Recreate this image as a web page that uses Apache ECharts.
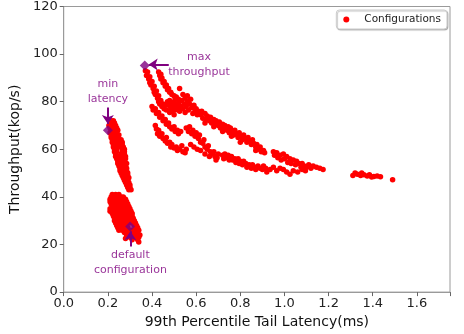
<!DOCTYPE html>
<html>
<head>
<meta charset="utf-8">
<script src="https://cdn.jsdelivr.net/npm/echarts@6/dist/echarts.min.js"></script>
<style>
html,body{margin:0;padding:0;background:#fff;}
#chart{width:464px;height:334px;}
</style>
</head>
<body>
<div id="chart"></div>
<script>
// ---- Data (latency ms, throughput kop/s) ----
var xTicks = [0.0, 0.2, 0.4, 0.6, 0.8, 1.0, 1.2, 1.4, 1.6];
var yTicks = [0, 20, 40, 60, 80, 100, 120];

var minLatencyCluster = [
[0.215,72],[0.225,72],[0.21,71],[0.23,71],[0.205,70],[0.22,70],[0.235,70],
[0.21,69],[0.225,69],[0.24,69],[0.215,68],[0.23,68],[0.245,68],
[0.21,67],[0.225,67],[0.24,67],[0.215,66],[0.23,66],[0.245,66],[0.25,66],
[0.215,65],[0.23,65],[0.245,65],[0.22,64],[0.235,64],[0.25,64],[0.26,64],
[0.22,63],[0.235,63],[0.25,63],[0.265,63],[0.225,62],[0.24,62],[0.255,62],[0.265,62],
[0.225,61],[0.24,61],[0.26,61],[0.27,61],[0.23,60],[0.24,60],[0.265,60],[0.275,60],
[0.23,59],[0.24,59],[0.265,59],[0.275,59],[0.235,58],[0.26,58],[0.275,58],
[0.235,57],[0.25,57],[0.265,57],[0.28,57],[0.24,56],[0.255,56],[0.27,56],[0.28,56],
[0.245,55],[0.26,55],[0.275,55],[0.245,54],[0.26,54],[0.275,54],[0.285,54],
[0.25,53],[0.265,53],[0.28,53],[0.255,52],[0.27,52],[0.285,52],
[0.255,51],[0.27,51],[0.285,51],[0.26,50],[0.275,50],[0.29,50],
[0.265,49],[0.28,49],[0.29,49],[0.27,48],[0.285,48],[0.295,48],
[0.275,47],[0.29,47],[0.28,46],[0.295,46],[0.285,45],[0.3,45],
[0.29,44],[0.3,44],[0.295,43],[0.305,43]
];

var defaultCluster = [
[0.22,41],[0.235,41],[0.25,41],
[0.215,40],[0.23,40],[0.245,40],[0.26,40],[0.27,40],
[0.21,39],[0.225,39],[0.24,39],[0.255,39],[0.27,39],[0.28,39],
[0.21,38],[0.225,38],[0.24,38],[0.255,38],[0.27,38],[0.285,38],
[0.215,37],[0.23,37],[0.245,37],[0.26,37],[0.275,37],[0.29,37],
[0.22,36],[0.235,36],[0.25,36],[0.265,36],[0.28,36],[0.295,36],
[0.21,35],[0.225,35],[0.24,35],[0.255,35],[0.27,35],[0.285,35],[0.3,35],
[0.21,34],[0.23,34],[0.245,34],[0.26,34],[0.275,34],[0.29,34],[0.305,34],
[0.22,33],[0.235,33],[0.25,33],[0.265,33],[0.28,33],[0.295,33],[0.31,33],
[0.225,32],[0.24,32],[0.255,32],[0.27,32],[0.285,32],[0.3,32],[0.31,32],
[0.23,31],[0.245,31],[0.26,31],[0.275,31],[0.29,31],[0.305,31],[0.315,31],
[0.23,30],[0.245,30],[0.26,30],[0.275,30],[0.29,30],[0.305,30],[0.32,30],
[0.235,29],[0.25,29],[0.265,29],[0.28,29],[0.295,29],[0.31,29],[0.325,29],
[0.24,28],[0.255,28],[0.27,28],[0.285,28],[0.32,28],[0.33,28],
[0.245,27],[0.26,27],[0.275,27],[0.29,27],[0.325,27],[0.335,27],
[0.25,26],[0.265,26],[0.28,26],[0.295,26],[0.31,26],[0.33,26],[0.34,26],
[0.275,25],[0.29,25],[0.305,25],[0.32,25],[0.335,25],
[0.285,24],[0.3,24],[0.315,24],[0.33,24],[0.345,24],
[0.28,22.5],[0.3,23],[0.32,23],[0.34,23],[0.31,22],[0.335,22],[0.34,21]
];

var upperBranches = [
[0.37,93],[0.375,91],[0.38,92.5],[0.385,89.5],[0.39,90.5],[0.39,88],[0.395,87],[0.40,88.5],
[0.405,85.5],[0.41,86.5],[0.41,84],[0.415,83],[0.42,84.5],[0.425,81.5],[0.43,82.5],[0.43,80],
[0.435,79],[0.44,80.5],[0.445,78],[0.45,79],[0.455,77],[0.46,78.5],[0.465,76.5],
[0.43,92.5],[0.435,91],[0.44,91.5],[0.44,89.5],[0.445,90],[0.45,88],[0.455,88.5],[0.46,86.5],
[0.465,87],[0.47,85],[0.475,85.5],[0.48,84],[0.485,84],[0.49,83],[0.5,82.5],[0.505,81.5],
[0.51,82],[0.52,81],[0.525,85.5]
];

var upperBlob = [
[0.47,80],[0.475,78.5],[0.48,80.5],[0.485,77],[0.49,79.5],[0.495,78],[0.50,80],[0.505,76.5],
[0.51,79],[0.515,77.5],[0.52,79.5],[0.525,76],[0.53,78],[0.535,80.5],[0.54,77],[0.545,79],
[0.55,81.5],[0.55,75.5],[0.555,78],[0.56,80],[0.565,76.5],[0.57,79],[0.575,81],[0.58,77.5],
[0.585,75],[0.59,78.5],[0.595,76],[0.60,77],[0.605,74.5],[0.61,76],[0.54,83],[0.56,82.5],
[0.5,74.5],[0.49,76],[0.48,75.5]
];

var upperMainBand = [
[0.62,74.5],[0.625,76],[0.63,73],[0.64,75],[0.645,72.5],[0.65,74],[0.66,72],[0.665,73.5],
[0.67,71],[0.68,72.5],[0.685,70.5],[0.69,72],[0.70,70],[0.705,71.5],[0.71,69],[0.72,70.5],
[0.725,68.5],[0.73,70],[0.74,68],[0.745,69.5],[0.75,67],[0.755,69],[0.76,67.5],[0.77,66],
[0.775,68],[0.78,66.5],[0.79,65],[0.795,67],[0.80,65.5],[0.81,64],[0.815,66],[0.82,64.5],
[0.83,63],[0.835,65],[0.84,63.5],[0.85,62],[0.855,64],[0.86,62.5],[0.87,61],[0.875,62],
[0.88,60],[0.89,61],[0.895,59],[0.905,59.5],[0.91,58.5],[0.87,59.5],[0.64,71],[0.68,69.5],
[0.72,67.5],[0.76,65.5],[0.8,63]
];

var middleStrands = [
[0.40,78],[0.405,76.5],[0.415,77],[0.42,75],[0.43,75.5],[0.435,73.5],[0.445,74],[0.45,72],
[0.46,72.5],[0.465,70.5],[0.475,71],[0.48,69.5],[0.49,68.5],[0.50,69.5],[0.505,67.5],[0.515,68],
[0.52,66.5],[0.53,67.5],
[0.415,70],[0.42,68.5],[0.425,66.5],[0.43,68],[0.435,65.5],[0.445,66.5],[0.45,64.5],[0.46,63.5],
[0.465,65],[0.47,62.5],[0.48,63],[0.485,61],[0.49,62],[0.50,60.5],[0.51,61],[0.515,59.5],
[0.525,60],[0.535,61.5],[0.54,59],[0.55,58.5],[0.555,60],
[0.555,69],[0.565,67.5],[0.57,69.5],[0.58,66.5],[0.585,68],[0.595,65.5],[0.60,67],[0.61,64.5],
[0.615,66],[0.62,63],[0.63,62.5],[0.635,64],[0.64,61],[0.65,60],[0.655,61.5],[0.665,59],
[0.67,58],[0.68,59],[0.685,57],[0.695,56.5],[0.70,58],
[0.575,62],[0.59,61],[0.605,60],[0.62,59.5],[0.64,58],[0.66,57],[0.69,55.5]
];

var lowerBand = [
[0.72,57.5],[0.725,56],[0.73,58],[0.74,56.5],[0.745,57.5],[0.75,55.5],[0.76,57],[0.765,55.5],
[0.775,56],[0.78,54.5],[0.79,56],[0.795,54],[0.80,55],[0.81,53.5],[0.815,55],[0.825,54],
[0.83,52.5],[0.84,53.5],[0.85,52],[0.855,53.5],[0.865,52.5],[0.87,51.5],[0.88,53],[0.89,52],
[0.90,51.5],[0.905,53],[0.915,52],[0.92,50.5]
];

var tailBand = [
[0.95,59],[0.955,57.5],[0.965,58.5],[0.97,56.5],[0.98,57.5],[0.985,55.5],[0.995,58],[1.0,56],
[1.01,57],[1.015,54.5],[1.025,56],[1.03,54],[1.04,55.5],[1.05,53.5],[1.055,55],[1.065,54],
[1.075,52.5],[1.08,54],[1.09,53],[1.10,52.5],[1.11,53.5],[1.12,52],[1.13,53],[1.145,52.5],
[1.16,52],[1.175,51.5],
[0.935,51.5],[0.95,52.5],[0.965,51],[0.98,52],[0.995,51.5],[1.01,50.5],[1.025,49.5],[1.04,51],
[1.06,50.5],[1.08,51.5],[1.095,51]
];

var farTail = [
[1.31,49],[1.32,50],[1.33,49.5],[1.345,49],[1.35,50],[1.36,49.3],[1.375,48.8],[1.385,49.3],
[1.395,48.4],[1.405,48.6],[1.42,48.8],[1.435,48.5],[1.49,47.2]
];

// highlighted configurations (diamonds)
var highlightNames = ['max throughput', 'min latency', 'default configuration'];
var highlightPoints = [[0.367, 95.2], [0.20, 68.0], [0.301, 27.6]];

// annotation texts and their anchor positions (data units)
var annotationTexts = ['max\nthroughput', 'min\nlatency', 'default\nconfiguration'];
var annotationAnchors = [[0.613, 95.6], [0.20, 84.4], [0.302, 12.2]];
// arrows: [from, to] in data units
var arrowLines = [
  [[0.476, 95.6], [0.385, 95.6]],
  [[0.20, 77.6], [0.20, 70.6]],
  [[0.302, 19.2], [0.302, 25.6]]
];

var configurations = [].concat(minLatencyCluster, defaultCluster, upperBranches, upperBlob,
  upperMainBand, middleStrands, lowerBand, tailBand, farTail);

var purple = '#800080';
var FONT = 'DejaVu Sans';

var chart = echarts.init(document.getElementById('chart'), null, {renderer: 'canvas'});
chart.setOption({
  animation: false,
  backgroundColor: '#ffffff',
  textStyle: {fontFamily: FONT},
  grid: {left: 62, right: 14, top: 5, bottom: 39, show: true, borderColor: '#9a9a9a', borderWidth: 1, containLabel: false},
  legend: {
    data: [{name: 'Configurations', icon: 'circle'}],
    right: 17, top: 10,
    itemWidth: 14, itemHeight: 6,
    padding: [4, 6, 4, 7],
    borderColor: '#cccccc', borderWidth: 1, borderRadius: 3,
    backgroundColor: '#ffffff',
    shadowColor: 'rgba(0,0,0,0.25)', shadowOffsetX: 1, shadowOffsetY: 1, shadowBlur: 1,
    textStyle: {fontFamily: FONT, fontSize: 10.5, color: '#222', padding: [0, 0, 0, 6]}
  },
  xAxis: {
    type: 'value', min: 0, max: 1.75, interval: 0.2,
    name: '99th Percentile Tail Latency(ms)', nameLocation: 'middle', nameGap: 21,
    nameTextStyle: {fontFamily: FONT, fontSize: 14, color: '#111'},
    axisLine: {show: true, lineStyle: {color: '#9a9a9a', width: 1}},
    axisTick: {show: true, inside: false, length: 4, lineStyle: {color: '#666'}},
    axisLabel: {fontFamily: FONT, fontSize: 13, color: '#222', margin: 5,
      formatter: function (v) { return xTicks.indexOf(Math.round(v * 10) / 10) >= 0 ? v.toFixed(1) : ''; }},
    splitLine: {show: false}
  },
  yAxis: {
    type: 'value', min: 0, max: 120, interval: 20,
    name: 'Throughput(kop/s)', nameLocation: 'middle', nameGap: 36,
    nameTextStyle: {fontFamily: FONT, fontSize: 14, color: '#111'},
    axisLine: {show: true, lineStyle: {color: '#9a9a9a', width: 1}},
    axisTick: {show: true, inside: false, length: 4, lineStyle: {color: '#666'}},
    axisLabel: {fontFamily: FONT, fontSize: 13, color: '#222', margin: 6,
      formatter: function (v) { return yTicks.indexOf(v) >= 0 ? String(v) : ''; }},
    splitLine: {show: false}
  },
  series: [
    {
      name: 'Configurations', type: 'scatter', symbol: 'circle', symbolSize: 5.5,
      itemStyle: {color: '#ff0000', opacity: 1},
      data: configurations, z: 2
    },
    {
      name: 'highlights', type: 'scatter', symbol: 'diamond', symbolSize: 10,
      itemStyle: {color: purple},
      data: highlightPoints.map(function (p, i) { return {name: highlightNames[i], value: p}; }),
      z: 4,
      markLine: {
        silent: true, animation: false,
        symbol: ['none', 'arrow'], symbolSize: [9, 9],
        label: {show: false},
        lineStyle: {color: purple, width: 2, type: 'solid'},
        data: arrowLines.map(function (a) { return [{coord: a[0]}, {coord: a[1]}]; })
      }
    },
    {
      name: 'annotations', type: 'scatter', symbolSize: 0, silent: true,
      data: annotationAnchors.map(function (p, i) { return {name: annotationTexts[i], value: p}; }),
      label: {show: true, position: 'inside', formatter: function (p) { return p.name; },
        fontFamily: FONT, fontSize: 11, lineHeight: 15, color: purple, align: 'center'},
      z: 5
    }
  ]
});
</script>
</body>
</html>
